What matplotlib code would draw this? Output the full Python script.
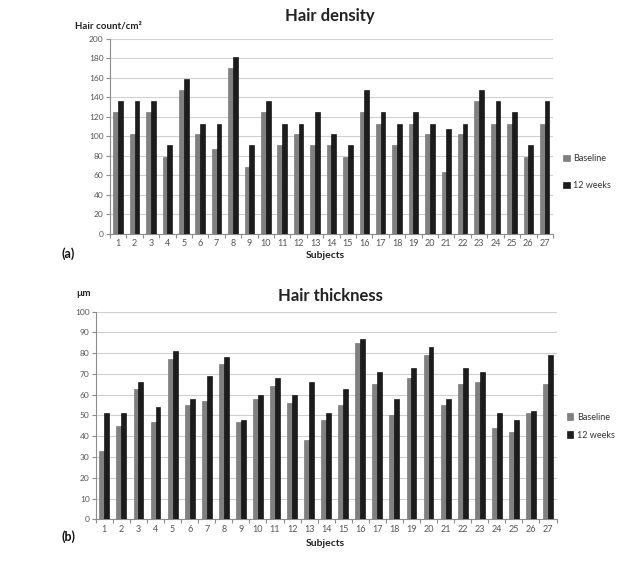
import matplotlib
matplotlib.use("Agg")
import matplotlib.pyplot as plt
import numpy as np
from matplotlib.patches import Patch

plt.rcParams['font.family'] = ['Lato', 'DejaVu Sans']

subjects = [str(i) for i in range(1, 28)]

density_baseline = [125, 102, 125, 79, 147, 102, 87, 170, 68, 125, 91, 102, 91, 91,
                    79, 125, 113, 91, 113, 102, 63, 102, 136, 113, 113, 79, 113]
density_12wk = [136, 136, 136, 91, 159, 113, 113, 181, 91, 136, 113, 113, 125, 102,
                91, 147, 125, 113, 125, 113, 107, 113, 147, 136, 125, 91, 136]

thick_baseline = [33, 45, 63, 47, 77, 55, 57, 75, 47, 58, 64, 56, 38, 48,
                  55, 85, 65, 50, 68, 79, 55, 65, 66, 44, 42, 51, 65]
thick_12wk = [51, 51, 66, 54, 81, 58, 69, 78, 48, 60, 68, 60, 66, 51,
              63, 87, 71, 58, 73, 83, 58, 73, 71, 51, 48, 52, 79]

series_labels = ["Baseline", "12 weeks"]
c_base = "#808080"
c_12 = "#1c1c1c"
axis_col = "#8c8c8c"
grid_col = "#d0d0d0"
tick_col = "#555555"

fig = plt.figure(figsize=(6.41, 5.64), dpi=100)
ax1 = fig.add_axes([0.1716, 0.5856, 0.691, 0.3457])
ax2 = fig.add_axes([0.1495, 0.0793, 0.7187, 0.368])


def draw(ax, base, wk, ymax, ystep, spacing, leg_y):
    x = np.arange(1, len(subjects) + 1)
    w = 0.29
    ax.bar(x - w / 2, base, width=w, color=c_base, edgecolor="#6a6a6a", linewidth=0.4,
           label=series_labels[0], zorder=3)
    ax.bar(x + w / 2, wk, width=w, color=c_12, edgecolor="#000000", linewidth=0.4,
           label=series_labels[1], zorder=3)
    ax.set_xlim(0.5, len(subjects) + 0.5)
    ax.set_ylim(0, ymax)
    ax.set_yticks(np.arange(0, ymax + 1, ystep))
    ax.yaxis.grid(True, color=grid_col, linewidth=0.8, zorder=0)
    ax.set_axisbelow(True)
    ax.set_xticks(x)
    ax.set_xticklabels(subjects)
    ax.set_xticks(np.arange(0.5, len(subjects) + 1, 1), minor=True)
    ax.tick_params(axis='x', which='major', length=0, labelsize=6.5, colors=tick_col, pad=4)
    ax.tick_params(axis='x', which='minor', length=3, color=axis_col, width=0.8)
    ax.tick_params(axis='y', length=3, labelsize=6, colors=tick_col, color=axis_col,
                   width=0.8, pad=1.5)
    for s in ["top", "right"]:
        ax.spines[s].set_visible(False)
    for s in ["left", "bottom"]:
        ax.spines[s].set_color(axis_col)
        ax.spines[s].set_linewidth(0.8)
    handles = [Patch(facecolor=c_base, edgecolor="#6a6a6a", linewidth=0.4),
               Patch(facecolor=c_12, edgecolor="#000000", linewidth=0.4)]
    ax.legend(handles, series_labels, loc='center left', bbox_to_anchor=(1.005, leg_y),
              frameon=False, fontsize=6.5, handlelength=0.7, handleheight=0.7,
              handletextpad=0.4, labelspacing=spacing, labelcolor="#333333")


draw(ax1, density_baseline, density_12wk, 200, 20, 2.0, 0.316)
draw(ax2, thick_baseline, thick_12wk, 100, 10, 1.0, 0.449)

fig.text(330 / 641, 1 - 16 / 564, "Hair density", ha='center', va='center',
         fontsize=12, fontweight='bold', color="#222222")
fig.text(75 / 641, 1 - 26 / 564, "Hair count/cm²", ha='left', va='center',
         fontsize=7, fontweight='bold', color="#222222")
fig.text(325 / 641, 1 - 255 / 564, "Subjects", ha='center', va='center',
         fontsize=7.5, fontweight='bold', color="#222222")
fig.text(62 / 641, 1 - 254 / 564, "(a)", ha='left', va='center',
         fontsize=9, fontweight='bold', color="#111111")

fig.text(330 / 641, 1 - 296 / 564, "Hair thickness", ha='center', va='center',
         fontsize=12, fontweight='bold', color="#222222")
fig.text(76 / 641, 1 - 294 / 564, "µm", ha='left', va='center',
         fontsize=7, fontweight='bold', color="#222222")
fig.text(325 / 641, 1 - 544 / 564, "Subjects", ha='center', va='center',
         fontsize=7.5, fontweight='bold', color="#222222")
fig.text(62 / 641, 1 - 537 / 564, "(b)", ha='left', va='center',
         fontsize=9, fontweight='bold', color="#111111")

fig.savefig("out.png", dpi=100, facecolor="white")
